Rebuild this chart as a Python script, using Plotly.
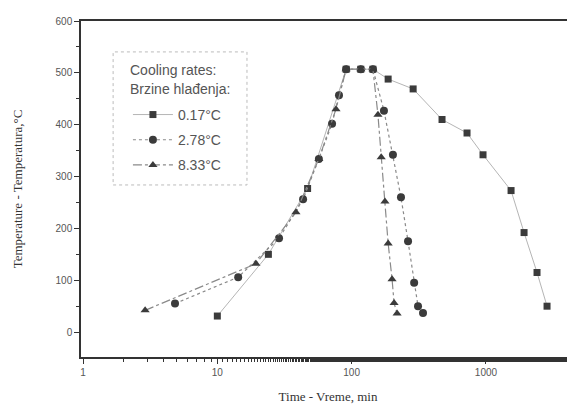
import plotly.graph_objects as go

# ---- data ----
sq_time = [10, 24, 47, 91, 117, 144, 187, 287, 471, 723, 951, 1538, 1922, 2400, 2850]
sq_temp = [31, 150, 277, 507, 507, 507, 488, 469, 410, 384, 342, 273, 192, 115, 50]

ci_time = [4.84, 14.3, 28.8, 43.5, 57, 71.5, 80.5, 91, 117, 144, 174, 203, 233, 263, 292, 312, 340]
ci_temp = [55, 106, 181, 256, 334, 402, 457, 507, 507, 507, 427, 342, 260, 175, 95, 50, 37]

tr_time = [2.9, 19.4, 38.5, 57, 76.5, 91, 117, 144, 157, 166, 177, 187, 200, 207, 218]
tr_temp = [42, 132, 231, 334, 430, 507, 507, 507, 419, 337, 252, 171, 102, 56, 36]

series_names = ["0.17°C", "2.78°C", "8.33°C"]
legend_heading = ["Cooling rates:", "Brzine hlađenja:"]
x_tick_vals = [1, 10, 100, 1000]
x_tick_text = ["1", "10", "100", "1000"]
y_tick_vals = [0, 100, 200, 300, 400, 500, 600]

mk = "#3b3b3b"
fig = go.Figure()
fig.add_trace(go.Scatter(x=sq_time, y=sq_temp, name=series_names[0], mode="lines+markers",
                         legendgroup="a",
                         line=dict(color="#b5b5b5", width=1, dash="solid"),
                         marker=dict(symbol="square", size=7, color=mk)))
fig.add_trace(go.Scatter(x=ci_time, y=ci_temp, name=series_names[1], mode="lines+markers",
                         legendgroup="b",
                         line=dict(color="#8a8a8a", width=1.2, dash="dot"),
                         marker=dict(symbol="circle", size=8, color=mk)))
fig.add_trace(go.Scatter(x=tr_time, y=tr_temp, name=series_names[2], mode="lines+markers",
                         legendgroup="c",
                         line=dict(color="#8a8a8a", width=1.2, dash="dashdot"),
                         marker=dict(symbol="triangle-up", size=8, color=mk)))

axis_col = "#333333"
fig.update_layout(
    width=575, height=407,
    # the page body adds an 8px offset, so margins compensate
    margin=dict(l=73, r=8, t=13, b=58, autoexpand=False),
    paper_bgcolor="white", plot_bgcolor="white",
    font=dict(family="Liberation Sans, Arial", color="#444444"),
    legend=dict(
        font=dict(size=14, color="#555555"),
        x=0.095, y=0.768, xanchor="left", yanchor="top",
        bgcolor="rgba(0,0,0,0)", borderwidth=0,
        tracegroupgap=4, itemwidth=40,
    ),
    annotations=[
        dict(text=legend_heading[0], xref="paper", yref="paper", x=0.095, y=0.854,
             xanchor="left", yanchor="middle", showarrow=False,
             font=dict(size=14, color="#555555")),
        dict(text=legend_heading[1], xref="paper", yref="paper", x=0.095, y=0.798,
             xanchor="left", yanchor="middle", showarrow=False,
             font=dict(size=14, color="#555555")),
    ],
    xaxis=dict(
        type="log", range=[-0.015, 3.663], automargin=False,
        tickvals=x_tick_vals, ticktext=x_tick_text,
        ticks="outside", ticklen=5, tickcolor=axis_col,
        minor=dict(ticks="outside", ticklen=3, tickcolor=axis_col),
        showline=True, linecolor=axis_col, linewidth=1.5, mirror=True,
        showgrid=False, zeroline=False,
        tickfont=dict(size=10, color="#555555"),
        title=dict(text="Time - Vreme, min",
                   font=dict(family="Liberation Serif, Times New Roman", size=13, color="#333333"),
                   standoff=15),
    ),
    yaxis=dict(
        range=[-48, 600], automargin=False,
        tickvals=y_tick_vals,
        ticks="outside", ticklen=5, tickcolor=axis_col,
        minor=dict(ticks="outside", ticklen=3, dtick=50, tickcolor=axis_col),
        showline=True, linecolor=axis_col, linewidth=1.5,
        showgrid=False, zeroline=False,
        tickfont=dict(size=10, color="#555555"),
        title=dict(text="Temperature - Temperatura,°C",
                   font=dict(family="Liberation Serif, Times New Roman", size=13, color="#333333"),
                   standoff=30),
    ),
    shapes=[dict(type="rect", xref="paper", yref="paper",
                 x0=0.065, x1=0.336, y0=0.512, y1=0.908,
                 line=dict(color="#bbbbbb", width=1, dash="dot"))],
)

fig.write_html("out.html")
